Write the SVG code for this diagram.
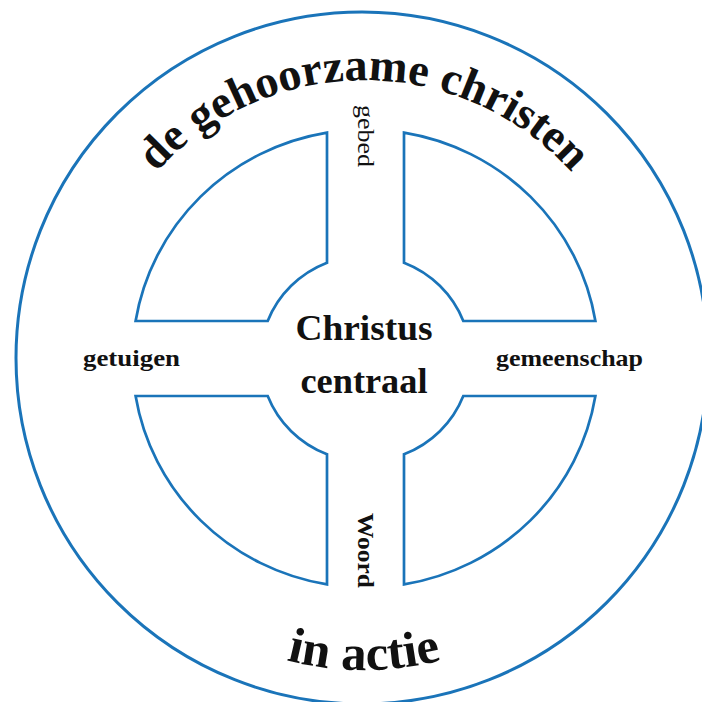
<svg xmlns="http://www.w3.org/2000/svg" width="702" height="702" viewBox="0 0 702 702">
  <style>
    .ring { fill: none; stroke: #1a74b9; stroke-width: 3; }
    .quad { fill: #ffffff; stroke: #1a74b9; stroke-width: 2.7; stroke-linejoin: miter; }
    .t { font-family: "Liberation Serif", "Times New Roman", serif; fill: #111111; }
    .b { font-weight: bold; }
  </style>
  <defs>
    <path id="arcTop" d="M 88.3,311.4 A 280 280 0 0 1 639.7,311.4"/>
    <path id="arcBot" d="M 93.8,514 A 312 312 0 0 0 634.2,514"/>
  </defs>
  <rect width="702" height="702" fill="#ffffff"/>
  <g id="outer-ring">
    <circle class="ring" cx="362" cy="358" r="346"/>
  </g>
  <g id="connectors"></g>
  <g id="quadrant-top-left">
    <path class="quad" d="M327,132.6 V262.7 A105,103 0 0 0 267.7,321 H135.6 A233,229 0 0 1 327,132.6 Z"/>
  </g>
  <g id="quadrant-top-right">
    <path class="quad" d="M404,132.6 V262.7 A105,103 0 0 1 463.3,321 H595.4 A233,229 0 0 0 404,132.6 Z"/>
  </g>
  <g id="quadrant-bottom-left">
    <path class="quad" d="M327,584.4 V454.3 A105,103 0 0 1 267.7,396 H135.6 A233,229 0 0 0 327,584.4 Z"/>
  </g>
  <g id="quadrant-bottom-right">
    <path class="quad" d="M404,584.4 V454.3 A105,103 0 0 0 463.3,396 H595.4 A233,229 0 0 1 404,584.4 Z"/>
  </g>
  <g id="title-top">
    <text class="t b" font-size="46"><textPath href="#arcTop" startOffset="50%" text-anchor="middle" textLength="468" lengthAdjust="spacingAndGlyphs">de gehoorzame christen</textPath></text>
  </g>
  <g id="title-bottom">
    <text class="t b" font-size="50"><textPath href="#arcBot" startOffset="50%" text-anchor="middle" textLength="157" lengthAdjust="spacingAndGlyphs">in actie</textPath></text>
  </g>
  <g id="center">
    <text class="t b" font-size="36" x="364" y="340" text-anchor="middle" textLength="137" lengthAdjust="spacingAndGlyphs">Christus</text>
    <text class="t b" font-size="36" x="364" y="393" text-anchor="middle" textLength="127" lengthAdjust="spacingAndGlyphs">centraal</text>
  </g>
  <g id="label-gebed">
    <text class="t" font-size="24" transform="translate(358,105) rotate(90)" textLength="62" lengthAdjust="spacingAndGlyphs">gebed</text>
  </g>
  <g id="label-woord">
    <text class="t b" font-size="24" transform="translate(358,513) rotate(90)" textLength="75" lengthAdjust="spacingAndGlyphs">Woord</text>
  </g>
  <g id="label-getuigen">
    <text class="t b" font-size="23" x="83" y="366" textLength="97" lengthAdjust="spacingAndGlyphs">getuigen</text>
  </g>
  <g id="label-gemeenschap">
    <text class="t b" font-size="23" x="496" y="366" textLength="147" lengthAdjust="spacingAndGlyphs">gemeenschap</text>
  </g>
</svg>
